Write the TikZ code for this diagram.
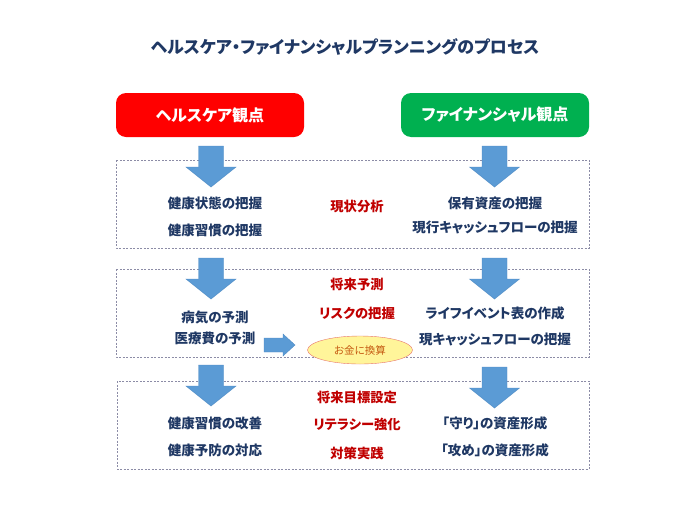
\documentclass[tikz,border=0pt]{standalone}
\usepackage{fontspec}
\setmainfont{Noto Sans CJK JP}[RawFeature=+palt]
\usepackage{xcolor}
\usetikzlibrary{shapes.geometric}

\definecolor{navy}{HTML}{1F3864}
\definecolor{darkred}{HTML}{C00000}
\definecolor{headred}{HTML}{FF0000}
\definecolor{headgreen}{HTML}{00B050}
\definecolor{arrowblue}{HTML}{5B9BD5}
\definecolor{arrowedge}{HTML}{4F8BC4}
\definecolor{framegray}{HTML}{8C8CA6}
\definecolor{moneyfill}{HTML}{FFF59A}
\definecolor{moneyedge}{HTML}{E8746A}
\definecolor{moneytext}{HTML}{C55A11}

% block arrow pointing down: centre x, top y
\newcommand{\downblock}[2]{\draw[blockarrow] (#1-12.5,#2) -- (#1+12.5,#2) -- (#1+12.5,#2+21) -- (#1+25,#2+21) -- (#1,#2+41) -- (#1-25,#2+21) -- (#1-12.5,#2+21) -- cycle;}

\begin{document}
\begin{tikzpicture}[x=1pt,y=-1pt]
\tikzstyle{header}=[rounded corners=10pt,minimum width=188pt,minimum height=44pt,text=white,font=\fontsize{16}{19}\selectfont\bfseries]
\tikzstyle{item}=[text=navy,font=\fontsize{13.5}{16}\selectfont\bfseries]
\tikzstyle{stage}=[text=darkred,font=\fontsize{13.3}{16}\selectfont\bfseries]
\tikzstyle{frame}=[draw=framegray,dash pattern=on 2pt off 1.5pt,line width=0.6pt]
\tikzstyle{blockarrow}=[fill=arrowblue,draw=arrowedge,line width=0.4pt]

\useasboundingbox (0,0) rectangle (700,525);

\node[text=navy,font=\fontsize{17}{20}\selectfont\bfseries](title) at (345,47){ヘルスケア・ファイナンシャルプランニングのプロセス};

\node[header,fill=headred](health) at (210,115){ヘルスケア観点};
\node[header,fill=headgreen](finance) at (495,115){ファイナンシャル観点};

% dashed frames
\draw[frame] (116,160) rectangle (589,248);
\draw[frame] (116,269) rectangle (589,357);
\draw[frame] (117,381) rectangle (589,469);

% down arrows
\downblock{211}{146}
\downblock{494.5}{146}
\downblock{211}{258}
\downblock{494.5}{258}
\downblock{211}{365}
\downblock{494.5}{367}

% stage 1
\node[item](h1a) at (215,203){健康状態の把握};
\node[item](h1b) at (215,230){健康習慣の把握};
\node[stage](s1) at (357,206){現状分析};
\node[item](f1a) at (495,203){保有資産の把握};
\node[item](f1b) at (495,227){現行キャッシュフローの把握};

% stage 2
\node[stage](s2a) at (357,284){将来予測};
\node[stage](s2b) at (357,313){リスクの把握};
\node[item](h2a) at (215,317){病気の予測};
\node[item](h2b) at (215,338){医療費の予測};
\node[item](f2a) at (495,313){ライフイベント表の作成};
\node[item](f2b) at (495,339){現キャッシュフローの把握};
\draw[blockarrow] (264,338) -- (283,338) -- (283,334) -- (295,345) -- (283,356) -- (283,352) -- (264,352) -- cycle;
\node[ellipse,draw=moneyedge,fill=moneyfill,minimum width=105pt,minimum height=28pt,inner sep=0pt,
      text=moneytext,font=\fontsize{10.5}{12}\selectfont](money) at (360,350){お金に換算};

% stage 3
\node[stage](s3a) at (357,397){将来目標設定};
\node[stage](s3b) at (357,424){リテラシー強化};
\node[stage](s3c) at (357,453){対策実践};
\node[item](h3a) at (215,423){健康習慣の改善};
\node[item](h3b) at (215,450){健康予防の対応};
\node[item](f3a) at (495,423){「守り」の資産形成};
\node[item](f3b) at (495,450){「攻め」の資産形成};
\end{tikzpicture}
\end{document}
